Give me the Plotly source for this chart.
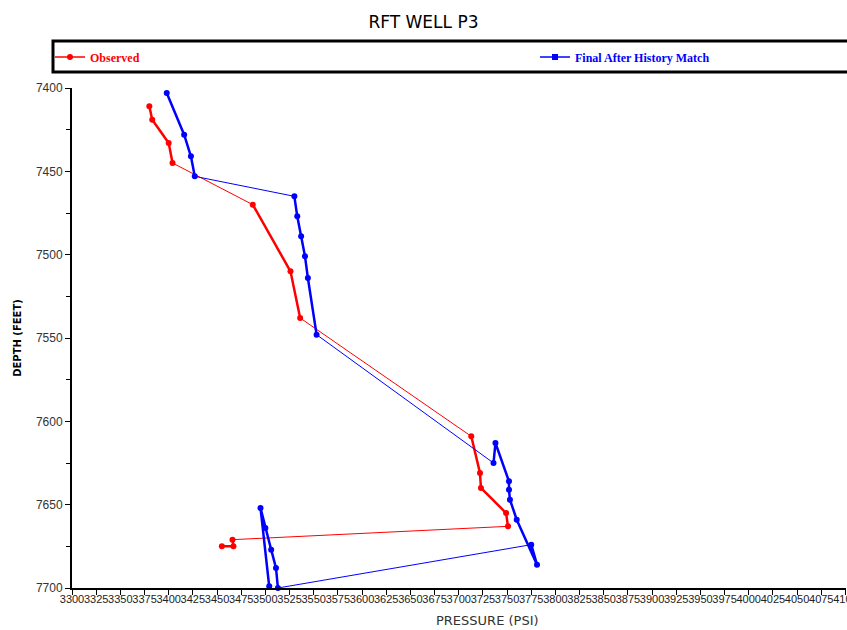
import plotly.graph_objects as go

# ---- data ----
obs_pressure = [3380, 3383, 3400, 3404, 3487, 3526, 3536, 3713, 3722, 3723, 3749, 3751, 3466, 3467, 3455]
obs_depth = [7411, 7419, 7433, 7445, 7470, 7510, 7538, 7609, 7631, 7640, 7655, 7663, 7671, 7675, 7675]
obs_group = [0, 0, 0, 0, 1, 1, 1, 2, 2, 2, 2, 2, 3, 3, 3]

sim_pressure = [3398, 3416, 3423, 3427, 3530, 3533, 3537, 3541, 3544, 3553,
                3736, 3738, 3752, 3752, 3753, 3760, 3781, 3775,
                3513, 3511, 3506, 3500, 3495, 3504]
sim_depth = [7403, 7428, 7441, 7453, 7465, 7477, 7489, 7501, 7514, 7548,
             7625, 7613, 7636, 7641, 7647, 7659, 7686, 7674,
             7700, 7688, 7677, 7664, 7652, 7699]
sim_group = [0, 0, 0, 0, 1, 1, 1, 1, 1, 1,
             2, 2, 2, 2, 2, 2, 2, 2,
             3, 3, 3, 3, 3, 3]

x_ticks = list(range(3300, 4101, 25))
y_ticks = list(range(7400, 7701, 50))

fig = go.Figure()


def add_series(px, dp, grp, color, name, legend_symbol, legend_id):
    # thin connecting line with markers
    fig.add_trace(go.Scatter(x=px, y=dp, mode="lines+markers", name=name,
                             line=dict(color=color, width=1),
                             marker=dict(color=color, size=6, symbol="circle"),
                             showlegend=False, cliponaxis=False))
    # thicker runs inside groups
    for g in sorted(set(grp)):
        xs = [p for p, k in zip(px, grp) if k == g]
        ys = [d for d, k in zip(dp, grp) if k == g]
        fig.add_trace(go.Scatter(x=xs, y=ys, mode="lines", line=dict(color=color, width=2.5),
                                 showlegend=False, hoverinfo="skip"))
    # legend entry
    fig.add_trace(go.Scatter(x=[None], y=[None], mode="lines+markers", name=name,
                             line=dict(color=color, width=1.5),
                             marker=dict(color=color, size=6, symbol=legend_symbol),
                             showlegend=True, legend=legend_id))


add_series(obs_pressure, obs_depth, obs_group, "#ff0000",
           "<span style='color:#ff0000'><b>Observed</b></span>", "circle", "legend")
add_series(sim_pressure, sim_depth, sim_group, "#0000ff",
           "<span style='color:#0000ff'><b>Final After History Match</b></span>", "square", "legend2")

leg_common = dict(orientation="h", xanchor="left", y=1 + (88 - 57) / 500,
                  yanchor="middle", yref="paper", bgcolor="rgba(0,0,0,0)", borderwidth=0,
                  itemwidth=30, font=dict(family="Liberation Serif", size=12))

fig.update_layout(
    width=847, height=630,
    margin=dict(l=72, r=1, t=88, b=42),
    paper_bgcolor="white", plot_bgcolor="white",
    title=dict(text="RFT WELL P3", x=0.5, xref="container", xanchor="center",
               y=1 - 22 / 630, yref="container", yanchor="middle",
               font=dict(family="DejaVu Sans", size=17, color="#000000")),
    showlegend=True,
    legend=dict(x=(50 - 72) / 774, **leg_common),
    legend2=dict(x=(535 - 72) / 774, **leg_common),
    shapes=[dict(type="rect", xref="paper", yref="paper",
                 x0=(53 - 72) / 774, x1=1.05, y0=1 + (88 - 72) / 500, y1=1 + (88 - 41) / 500,
                 line=dict(color="black", width=3))],
    annotations=[dict(text="PRESSURE (PSI)", xref="paper", yref="paper",
                      x=(487 - 72) / 774, y=-(620 - 588) / 500, xanchor="center", yanchor="middle",
                      showarrow=False,
                      font=dict(family="DejaVu Sans", size=13, color="#333333"))],
    xaxis=dict(range=[3300, 4100.6], tickvals=x_ticks, ticktext=[str(v) for v in x_ticks],
               tickangle=0, showgrid=False, zeroline=False, automargin=False,
               showline=True, linecolor="black", linewidth=2,
               ticks="outside", ticklen=5, tickcolor="black", tickwidth=1,
               ticklabeloverflow="allow", ticklabelstandoff=-5,
               tickfont=dict(family="Liberation Sans", size=11, color="#222222")),
    yaxis=dict(range=[7700, 7400], tickvals=y_ticks, showgrid=False, zeroline=False,
               automargin=False,
               showline=True, linecolor="black", linewidth=2,
               ticks="outside", ticklen=5, tickcolor="black", tickwidth=1,
               minor=dict(tickvals=list(range(7425, 7700, 50)), ticks="outside", ticklen=4,
                          tickcolor="black"),
               tickfont=dict(family="Liberation Sans", size=12, color="#333333"),
               title=dict(text="<b>DEPTH (FEET)</b>", standoff=12,
                          font=dict(family="DejaVu Sans", size=10, color="#000000"))),
)

fig.write_html("out.html")
